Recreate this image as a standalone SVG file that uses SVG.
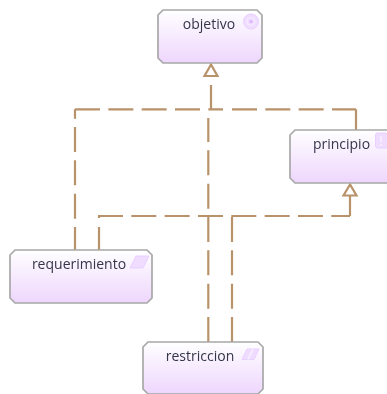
<svg xmlns="http://www.w3.org/2000/svg" width="387" height="394" viewBox="0 0 387 394">
<style>
text{font-family:"Open Sans","Liberation Sans",sans-serif;font-size:14px;fill:#35354a;text-anchor:middle}
.n{fill:url(#g);stroke:#a8a8a8;stroke-width:1.7}
.c{fill:none;stroke:#b8926a;stroke-width:2.2}
.d{stroke-dasharray:25 8.33}
.a{fill:#fff;stroke:#b8926a;stroke-width:2.2}
.i{fill:#f0dcff;stroke:#e8d0ff;stroke-width:1}
.s{fill:none;stroke:#f8efff;stroke-width:1.500}
.b{filter:url(#b)}
</style>
<defs>
<linearGradient id="g" x1="0" y1="0" x2="0" y2="1"><stop offset="0" stop-color="#ffffff"/><stop offset="1" stop-color="#eed6fd"/></linearGradient>
<filter id="b" x="-5%" y="-5%" width="110%" height="110%"><feGaussianBlur stdDeviation="0.45"/></filter>
</defs>
<rect width="387" height="394" fill="#fff"/>
<g id="connectors" class="b">
<path class="c" d="M211 85V109.300"/>
<path class="c d" d="M75 252V109.300"/>
<path class="c d" d="M75 109.300H223"/>
<path class="c d" d="M232 109.300H356"/>
<path class="c" d="M356 109.300V130"/>
<path class="c d" d="M208.300 342V118"/>
<path class="c d" d="M99 252V227"/>
<path class="c d" d="M98 216H350"/>
<path class="c" d="M350 216V196"/>
<path class="c" d="M99 216V218"/>
<path class="c d" d="M232 342V216"/>
<polygon class="a" points="211,64.500 204.500,76 217.500,76"/>
<polygon class="a" points="350,184.500 343.500,195.500 356.500,195.500"/>
</g>
<g id="objetivo" class="b"><path class="n" d="M163 10H257L262 15V58L257 63H163L158 58V15Z"/><text x="209" y="29">objetivo</text><circle class="i" cx="251" cy="21.500" r="7.500"/><circle cx="251" cy="21.500" r="4" fill="none" stroke="#f8efff"/><circle cx="251" cy="21.500" r="1.500" fill="#d9b3ff"/></g>
<g id="principio" class="b"><path class="n" d="M295 130H392V183H295L290 178V135Z"/><text x="341.500" y="149">principio</text><rect class="i" x="375.500" y="133" width="12" height="15" rx="2"/><path class="s" d="M381 136V142M381 144V146"/></g>
<g id="requerimiento" class="b"><path class="n" d="M15 250H147L152 255V298L147 303H15L10 298V255Z"/><text x="79" y="269">requerimiento</text><polygon class="i" points="136,256 149,256 143,268 130,268"/></g>
<g id="restriccion" class="b"><path class="n" d="M148 342H258L263 347V389L258 394H148L143 389V347Z"/><text x="200" y="361">restriccion</text><polygon class="i" points="247,349 259,349 254,359.500 242,359.500"/><path class="s" d="M253 349L248 359.500"/></g>
</svg>
